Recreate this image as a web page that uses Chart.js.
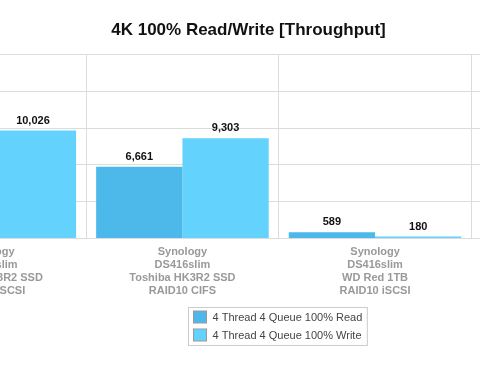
<!DOCTYPE html>
<html>
<head>
<meta charset="utf-8">
<script src="https://cdn.jsdelivr.net/npm/chart.js@4"></script>
<style>
  html, body { margin: 0; padding: 0; background: #fff; overflow: hidden; }
  #wrap { position: absolute; left: -167px; top: 0; width: 831px; height: 377px; }
</style>
</head>
<body>
<div id="wrap"><canvas id="chart" width="831" height="377"></canvas></div>
<script>
// Categories (the first and last are cut off by the frame)
const categories = [
    ['Synology', 'DS416slim', 'Toshiba HK3R2 SSD', 'RAID10 iSCSI'],
    ['Synology', 'DS416slim', 'Toshiba HK3R2 SSD', 'RAID10 CIFS'],
    ['Synology', 'DS416slim', 'WD Red 1TB', 'RAID10 iSCSI'],
    ''
];
const seriesNames = ['4 Thread 4 Queue 100% Read', '4 Thread 4 Queue 100% Write'];
const readValues = [null, 6661, 589, null];
const writeValues = [10026, 9303, 180, null];
const yMax = 17100;
const yStep = 3420;

const FONT = '"Liberation Sans", Arial, Helvetica, sans-serif';
const readColor = '#4cb9ea';
const writeColor = '#63d3fd';
const gridColor = '#dcdcdc';

// Value labels above each bar
const valueLabels = {
    id: 'valueLabels',
    afterDatasetsDraw(chart) {
        const ctx = chart.ctx;
        ctx.save();
        ctx.font = 'bold 11px ' + FONT;
        ctx.fillStyle = '#111';
        ctx.textAlign = 'center';
        ctx.textBaseline = 'alphabetic';
        chart.data.datasets.forEach((ds, i) => {
            chart.getDatasetMeta(i).data.forEach((bar, j) => {
                const v = ds.data[j];
                if (v === null || v === undefined) return;
                ctx.fillText(v.toLocaleString('en-US'), bar.x, bar.y - 7);
            });
        });
        ctx.restore();
    }
};

// Boxed two-row legend under the axis
const boxLegend = {
    id: 'boxLegend',
    afterDraw(chart) {
        const ctx = chart.ctx;
        const area = chart.chartArea;
        const datasets = chart.data.datasets;
        ctx.save();
        ctx.font = '11px ' + FONT;
        const textW = Math.max(...datasets.map(d => ctx.measureText(d.label).width));
        const w = 5 + 13 + 6 + textW + 5;
        const h = 38;
        const left = Math.round((area.left + area.right) / 2 - w / 2) - 0.5;
        const top = 307.5;
        ctx.strokeStyle = '#cccccc';
        ctx.lineWidth = 1;
        ctx.strokeRect(left, top, w, h);
        datasets.forEach((d, i) => {
            const cy = 317 + i * 18;
            ctx.fillStyle = d.backgroundColor;
            ctx.fillRect(left + 5, cy - 6, 13, 12);
            ctx.strokeStyle = '#999';
            ctx.strokeRect(left + 5, cy - 6, 13, 12);
            ctx.fillStyle = '#444';
            ctx.textAlign = 'left';
            ctx.textBaseline = 'middle';
            ctx.fillText(d.label, left + 5 + 13 + 6, cy + 0.5);
        });
        ctx.restore();
    }
};

new Chart(document.getElementById('chart'), {
    type: 'bar',
    data: {
        labels: categories,
        datasets: [{
            label: seriesNames[0],
            data: readValues,
            backgroundColor: readColor,
            borderWidth: 0
        }, {
            label: seriesNames[1],
            data: writeValues,
            backgroundColor: writeColor,
            borderWidth: 0
        }]
    },
    options: {
        responsive: false,
        animation: false,
        layout: {
            padding: { left: 0, right: 0, top: 0, bottom: 72.5 }
        },
        datasets: {
            bar: { barPercentage: 1, categoryPercentage: 0.896 }
        },
        scales: {
            x: {
                offset: true,
                grid: { color: gridColor, offset: true, drawTicks: false },
                border: { display: false },
                ticks: {
                    autoSkip: false,
                    maxRotation: 0,
                    padding: 7,
                    color: '#999',
                    font: { family: FONT, size: 11, weight: 'bold', lineHeight: 13 / 11 }
                }
            },
            y: {
                min: 0,
                max: yMax,
                grid: { color: gridColor, drawTicks: false },
                border: { display: false },
                ticks: { display: false, stepSize: yStep },
                afterFit(scale) { scale.width = 60.5; }
            }
        },
        plugins: {
            title: {
                display: true,
                text: '4K 100% Read/Write [Throughput]',
                color: '#111',
                font: { family: FONT, size: 17, weight: 'bold' },
                padding: { top: 20, bottom: 14 }
            },
            legend: { display: false },
            tooltip: { enabled: false }
        }
    },
    plugins: [valueLabels, boxLegend]
});
</script>
</body>
</html>
